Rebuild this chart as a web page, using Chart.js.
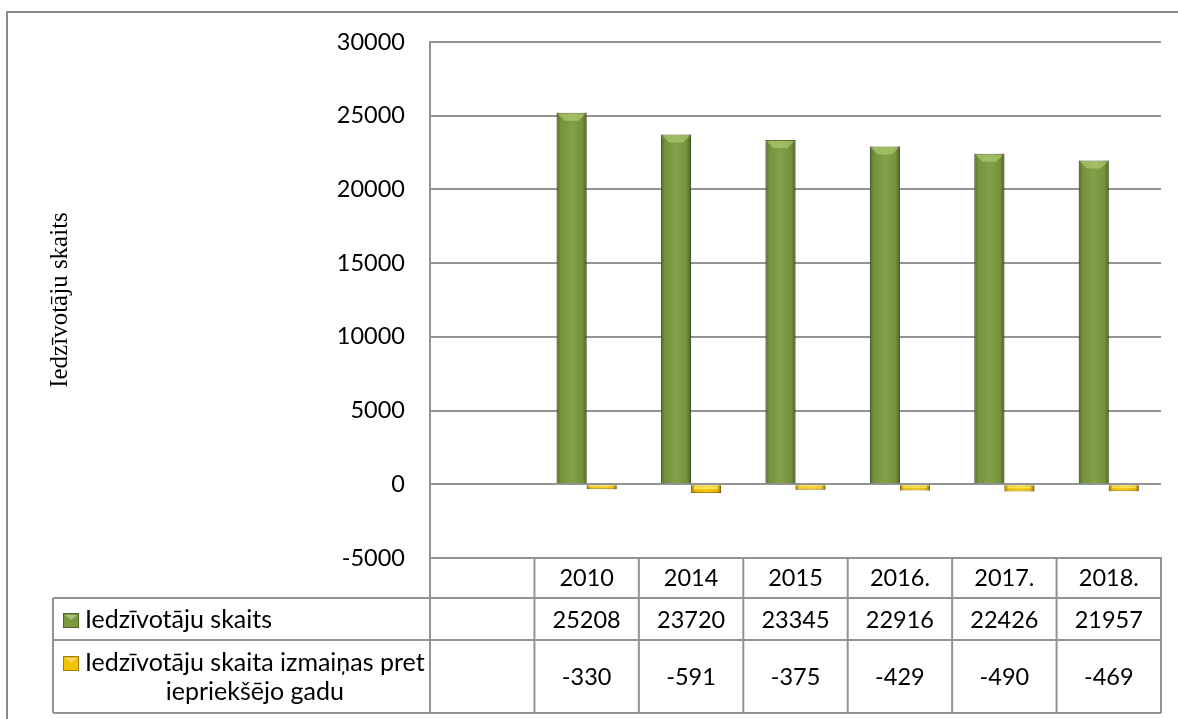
<!DOCTYPE html>
<html>
<head>
<meta charset="utf-8">
<script src="https://cdn.jsdelivr.net/npm/chart.js@4.4.1/dist/chart.umd.min.js"></script>
<style>
    html, body { margin: 0; padding: 0; background: #fff; }
    #wrap { width: 1178px; height: 719px; }
</style>
</head>
<body>
<div id="wrap"><canvas id="myChart" width="1178" height="719"></canvas></div>
<script>
// chart data
const categories = ['', '2010', '2014', '2015', '2016.', '2017.', '2018.'];
const populationValues = [null, 25208, 23720, 23345, 22916, 22426, 21957];
const changeValues = [null, -330, -591, -375, -429, -490, -469];
const yTicks = [-5000, 0, 5000, 10000, 15000, 20000, 25000, 30000];
const seriesLabels = [
    ['Iedzīvotāju skaits'],
    ['Iedzīvotāju skaita izmaiņas pret', 'iepriekšējo gadu']
];
const axisTitle = 'Iedzīvotāju skaits';

const LINE = '#939393';
const FONT = '23.5px Lato, Carlito, sans-serif';
const LABEL_FONT = '25px Lato, Carlito, sans-serif';
const GREEN = '#7b9a3f';
const YELLOW = '#f2c300';

// outer frame of the chart object
const framePlugin = {
    id: 'frame',
    beforeDraw(chart) {
        const ctx = chart.ctx;
        ctx.save();
        ctx.strokeStyle = '#8a8a8a';
        ctx.lineWidth = 2;
        ctx.beginPath();
        ctx.moveTo(7, chart.height);
        ctx.lineTo(7, 12);
        ctx.lineTo(chart.width, 12);
        ctx.stroke();
        ctx.restore();
    }
};

// fake Excel bevel on the bars
const bevelPlugin = {
    id: 'bevel',
    afterDatasetsDraw(chart) {
        const ctx = chart.ctx;
        chart.data.datasets.forEach((ds, di) => {
            const meta = chart.getDatasetMeta(di);
            meta.data.forEach((bar, i) => {
                if (ds.data[i] === null) return;
                const p = bar.getProps(['x', 'y', 'base', 'width'], true);
                const left = p.x - p.width / 2;
                const right = p.x + p.width / 2;
                const top = Math.min(p.y, p.base);
                const h = Math.abs(p.base - p.y);
                ctx.save();
                const g = ctx.createLinearGradient(left, 0, right, 0);
                g.addColorStop(0, 'rgba(0,0,0,0.30)');
                g.addColorStop(0.14, 'rgba(0,0,0,0.04)');
                g.addColorStop(0.5, 'rgba(255,255,255,0.06)');
                g.addColorStop(0.86, 'rgba(0,0,0,0.06)');
                g.addColorStop(1, 'rgba(0,0,0,0.38)');
                ctx.fillStyle = g;
                ctx.fillRect(left, top, p.width, h);
                if (ds.data[i] > 0) {
                    const b = 8;
                    ctx.fillStyle = 'rgba(190,215,120,0.55)';
                    ctx.beginPath();
                    ctx.moveTo(left + 1, top + 1);
                    ctx.lineTo(right - 1, top + 1);
                    ctx.lineTo(right - b, top + b);
                    ctx.lineTo(left + b, top + b);
                    ctx.closePath();
                    ctx.fill();
                } else {
                    ctx.fillStyle = 'rgba(255,240,120,0.7)';
                    ctx.fillRect(left + 3, top + 1, p.width - 6, Math.max(1, h / 2 - 1));
                }
                ctx.restore();
            });
        });
    }
};

function drawMarker(ctx, x, y, color, dark) {
    ctx.fillStyle = color;
    ctx.fillRect(x, y, 16, 15);
    ctx.strokeStyle = dark;
    ctx.lineWidth = 1;
    ctx.strokeRect(x + 0.5, y + 0.5, 15, 14);
    ctx.fillStyle = 'rgba(255,255,255,0.35)';
    ctx.beginPath();
    ctx.moveTo(x + 2, y + 2);
    ctx.lineTo(x + 14, y + 2);
    ctx.lineTo(x + 8, y + 7);
    ctx.closePath();
    ctx.fill();
}

// data table under the plot, Excel style
const tablePlugin = {
    id: 'dataTable',
    afterDraw(chart) {
        const ctx = chart.ctx;
        const xs = chart.scales.x;
        const area = chart.chartArea;
        const colW = xs.width / categories.length;
        const edges = categories.map((c, i) => xs.getPixelForValue(i) - colW / 2);
        edges.push(xs.right);

        const labelLeft = 53;
        const rows = [area.bottom, 598, 640, 713];
        const rowSeries = [populationValues, changeValues];

        ctx.save();
        ctx.strokeStyle = LINE;
        ctx.lineWidth = 2;
        ctx.beginPath();
        ctx.moveTo(area.left, rows[0]); ctx.lineTo(area.right, rows[0]);
        for (let r = 1; r < rows.length; r++) {
            ctx.moveTo(labelLeft, rows[r]); ctx.lineTo(area.right, rows[r]);
        }
        ctx.moveTo(labelLeft, rows[1]); ctx.lineTo(labelLeft, rows[3]);
        edges.forEach((ex, i) => {
            ctx.moveTo(ex, i === 0 ? area.top : rows[0]);
            ctx.lineTo(ex, rows[3]);
        });
        ctx.stroke();

        ctx.fillStyle = '#000';
        ctx.font = FONT;
        ctx.textAlign = 'center';
        ctx.textBaseline = 'middle';
        categories.forEach((c, i) => {
            const cx = xs.getPixelForValue(i);
            ctx.fillText(c, cx, (rows[0] + rows[1]) / 2);
            rowSeries.forEach((vals, r) => {
                if (vals[i] === null) return;
                ctx.fillText(String(vals[i]), cx, (rows[r + 1] + rows[r + 2]) / 2 + 1);
            });
        });

        // series labels with markers
        const markerColors = [[GREEN, '#4f6228'], [YELLOW, '#a07c00']];
        const textLeft = 85;
        ctx.font = LABEL_FONT;
        seriesLabels.forEach((lines, r) => {
            const mid = (rows[r + 1] + rows[r + 2]) / 2 + 1;
            const lh = 29;
            const y0 = mid - (lines.length - 1) * lh / 2;
            drawMarker(ctx, 63, y0 - 7, markerColors[r][0], markerColors[r][1]);
            ctx.fillStyle = '#000';
            const firstW = ctx.measureText(lines[0]).width;
            lines.forEach((ln, k) => {
                if (k === 0) {
                    ctx.textAlign = 'left';
                    ctx.fillText(ln, textLeft, y0);
                } else {
                    ctx.textAlign = 'center';
                    ctx.fillText(ln, textLeft + firstW / 2, y0 + k * lh);
                }
            });
        });
        ctx.restore();
    }
};

const ctx = document.getElementById('myChart').getContext('2d');
new Chart(ctx, {
    type: 'bar',
    data: {
        labels: categories,
        datasets: [{
            label: seriesLabels[0].join(' '),
            data: populationValues,
            backgroundColor: GREEN,
            borderColor: '#5e7433',
            borderWidth: 1,
            barPercentage: 1,
            categoryPercentage: 0.575
        }, {
            label: seriesLabels[1].join(' '),
            data: changeValues,
            backgroundColor: YELLOW,
            borderColor: '#a88400',
            borderWidth: 1,
            barPercentage: 1,
            categoryPercentage: 0.575
        }]
    },
    options: {
        responsive: false,
        animation: false,
        devicePixelRatio: 1,
        layout: { padding: { top: 42, right: 17, bottom: 0, left: 0 } },
        plugins: {
            legend: { display: false },
            tooltip: { enabled: false }
        },
        scales: {
            x: {
                ticks: { display: false },
                grid: { display: false },
                border: { display: true, color: LINE, width: 2 },
                afterFit(scale) { scale.height = 161; }
            },
            y: {
                min: yTicks[0],
                max: yTicks[yTicks.length - 1],
                afterBuildTicks(scale) { scale.ticks = yTicks.map(v => ({ value: v })); },
                ticks: {
                    padding: 25,
                    color: '#000',
                    font: { family: 'Lato, Carlito, sans-serif', size: 23.5 },
                    callback: v => String(v)
                },
                grid: { color: LINE, lineWidth: 2, drawTicks: false },
                border: { display: true, color: LINE, width: 2 },
                title: {
                    display: true,
                    text: axisTitle,
                    color: '#000',
                    font: { family: '"Liberation Serif", "Times New Roman", serif', size: 25 },
                    padding: { top: 45, bottom: 0 }
                },
                afterFit(scale) { scale.width = 430; }
            }
        }
    },
    plugins: [framePlugin, bevelPlugin, tablePlugin]
});
</script>
</body>
</html>
